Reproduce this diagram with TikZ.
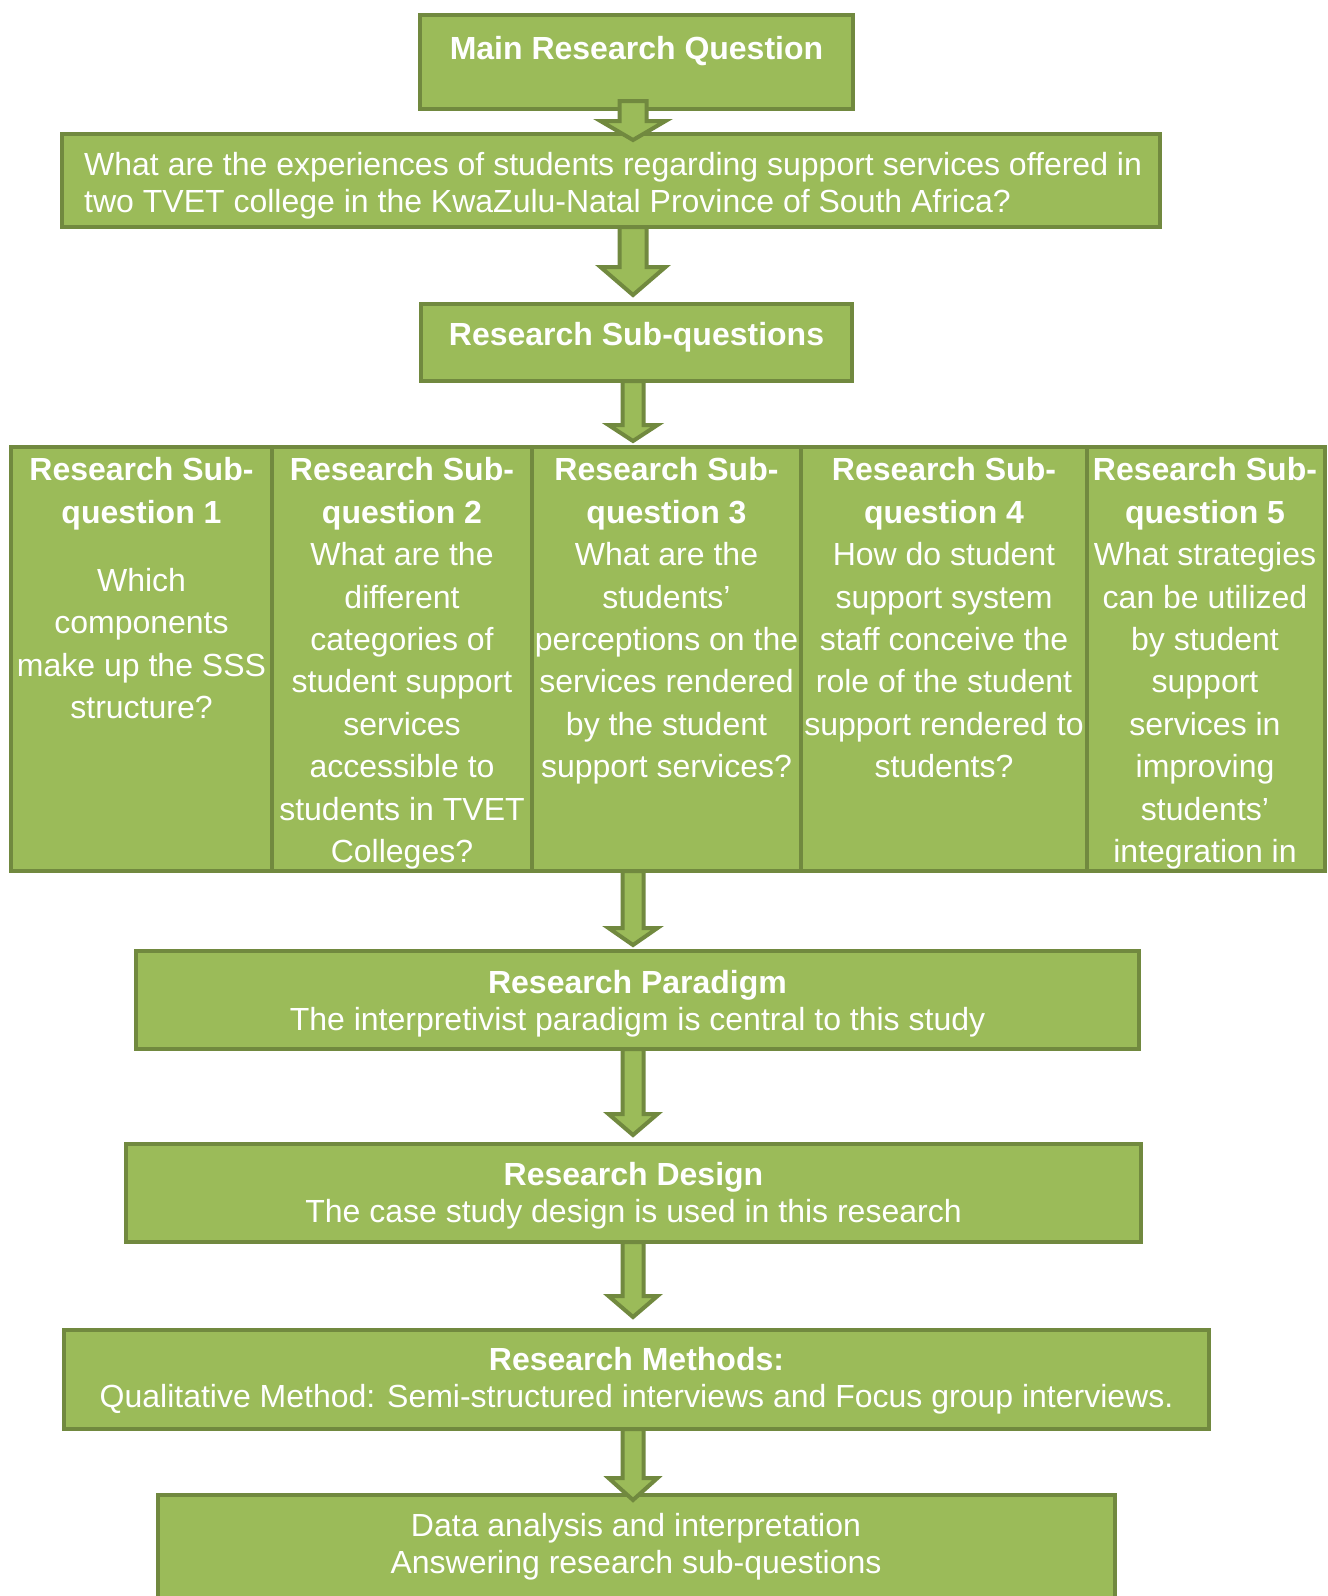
\documentclass[tikz,border=0pt]{standalone}
\usepackage{fontspec}
\setmainfont{Liberation Sans}
\usetikzlibrary{calc}
\definecolor{olfill}{HTML}{9BBB59}
\definecolor{olline}{HTML}{71893F}
% #1 start, #2 tip, #3 head length, #4 shaft half width, #5 head half width
\newcommand\fatarr[5]{%
  \draw[fatarrow] ($(#1)+(-#4,0)$) -- ($(#2)+(-#4,-#3)$) -- ($(#2)+(-#5,-#3)$) -- (#2)
    -- ($(#2)+(#5,-#3)$) -- ($(#2)+(#4,-#3)$) -- ($(#1)+(#4,0)$) -- cycle;}
\begin{document}
\begin{tikzpicture}[x=1pt,y=-1pt,
  box/.style={rectangle, draw=olline, fill=olfill, line width=4.5pt, inner sep=0pt, outer sep=0pt},
  txt/.style={text=white, inner sep=0pt, align=center, font=\fontsize{32pt}{37pt}\selectfont},
  coltxt/.style={text=white, inner sep=0pt, align=center, anchor=north,
    font=\fontsize{32pt}{42.4pt}\selectfont},
  fatarrow/.style={draw=olline, fill=olfill, line width=4pt, line join=miter}]
\useasboundingbox (0,0) rectangle (1328,1596);
\clip (0,0) rectangle (1328,1596);

% main question
\node[box, minimum width=433pt, minimum height=94pt] (main) at (636.5,62) {};
\node[txt] (maint) at (636.5,51.5) {\bfseries Main Research Question};

\node[box, minimum width=1098pt, minimum height=93pt] (mq) at (611,180.5) {};
\node[txt, align=left, anchor=west] (mqt) at (84,185.5) {What are the experiences of students regarding support services offered in\\two TVET college in the KwaZulu-Natal Province of South Africa?};

\node[box, minimum width=431pt, minimum height=77pt] (subq) at (636.5,342.5) {};
\node[txt] (subqt) at (636.5,337.5) {\bfseries Research Sub-questions};

% sub-question columns
\node[box, minimum width=261pt, minimum height=424pt] (sq1) at (141.5,659) {};
\node[box, minimum width=260pt, minimum height=424pt] (sq2) at (402,659) {};
\node[box, minimum width=269pt, minimum height=424pt] (sq3) at (666.5,659) {};
\node[box, minimum width=286pt, minimum height=424pt] (sq4) at (944,659) {};
\node[box, minimum width=238pt, minimum height=424pt] (sq5) at (1206,659) {};

\node[coltxt] (sq1t) at (141.5,457.5) {\textbf{Research Sub-}\\\textbf{question 1}\\[25.6pt]Which\\components\\make up the SSS\\structure?};
\node[coltxt] (sq2t) at (402,457.5) {\textbf{Research Sub-}\\\textbf{question 2}\\What are the\\different\\categories of\\student support\\services\\accessible to\\students in TVET\\Colleges?};
\node[coltxt] (sq3t) at (666.5,457.5) {\textbf{Research Sub-}\\\textbf{question 3}\\What are the\\students’\\perceptions on the\\services rendered\\by the student\\support services?};
\node[coltxt] (sq4t) at (944,457.5) {\textbf{Research Sub-}\\\textbf{question 4}\\How do student\\support system\\staff conceive the\\role of the student\\support rendered to\\students?};
\node[coltxt] (sq5t) at (1205,457.5) {\textbf{Research Sub-}\\\textbf{question 5}\\What strategies\\can be utilized\\by student\\support\\services in\\improving\\students’\\integration in};

% lower boxes
\node[box, minimum width=1003pt, minimum height=98pt] (par) at (637.5,1000) {};
\node[txt] (part) at (637.5,1003.5) {\textbf{Research Paradigm}\\The interpretivist paradigm is central to this study};
\node[box, minimum width=1015pt, minimum height=98pt] (des) at (633.5,1193) {};
\node[txt] (dest) at (633.5,1195.5) {\textbf{Research Design}\\The case study design is used in this research};
\node[box, minimum width=1145pt, minimum height=99pt] (met) at (636.5,1379.5) {};
\node[txt] (mett) at (636.5,1380.5) {\textbf{Research Methods:}\\Qualitative Method: Semi-structured interviews and Focus group interviews.};
\node[box, minimum width=957pt, minimum height=125pt] (dat) at (636.5,1557.5) {};
\node[txt] (datt) at (636,1546.5) {Data analysis and interpretation\\Answering research sub-questions};

% arrows
\coordinate (ax) at (633,0);
\coordinate (a1s) at ($(main.south -| ax)+(0,-8)$);
\coordinate (a1t) at ($(mq.north -| ax)+(0,6)$);
\coordinate (a2s) at (mq.south -| ax);
\coordinate (a2t) at ($(subq.north -| ax)+(0,-9)$);
\coordinate (a3s) at (subq.south -| ax);
\coordinate (a3t) at ($(sq3.north -| ax)+(0,-6)$);
\coordinate (a4s) at (sq3.south -| ax);
\coordinate (a4t) at ($(par.north -| ax)+(0,-6)$);
\coordinate (a5s) at (par.south -| ax);
\coordinate (a5t) at ($(des.north -| ax)+(0,-9)$);
\coordinate (a6s) at (des.south -| ax);
\coordinate (a6t) at ($(met.north -| ax)+(0,-13)$);
\coordinate (a7s) at (met.south -| ax);
\coordinate (a7t) at ($(dat.north -| ax)+(0,5)$);
\fatarr{a1s}{a1t}{19}{13.5}{32.5}
\fatarr{a2s}{a2t}{28}{13.5}{32.5}
\fatarr{a3s}{a3t}{16}{10.5}{24.5}
\fatarr{a4s}{a4t}{17}{10.5}{24.5}
\fatarr{a5s}{a5t}{21}{10.5}{24.5}
\fatarr{a6s}{a6t}{21}{10.5}{24.5}
\fatarr{a7s}{a7t}{22}{10.5}{24.5}
\end{tikzpicture}
\end{document}
